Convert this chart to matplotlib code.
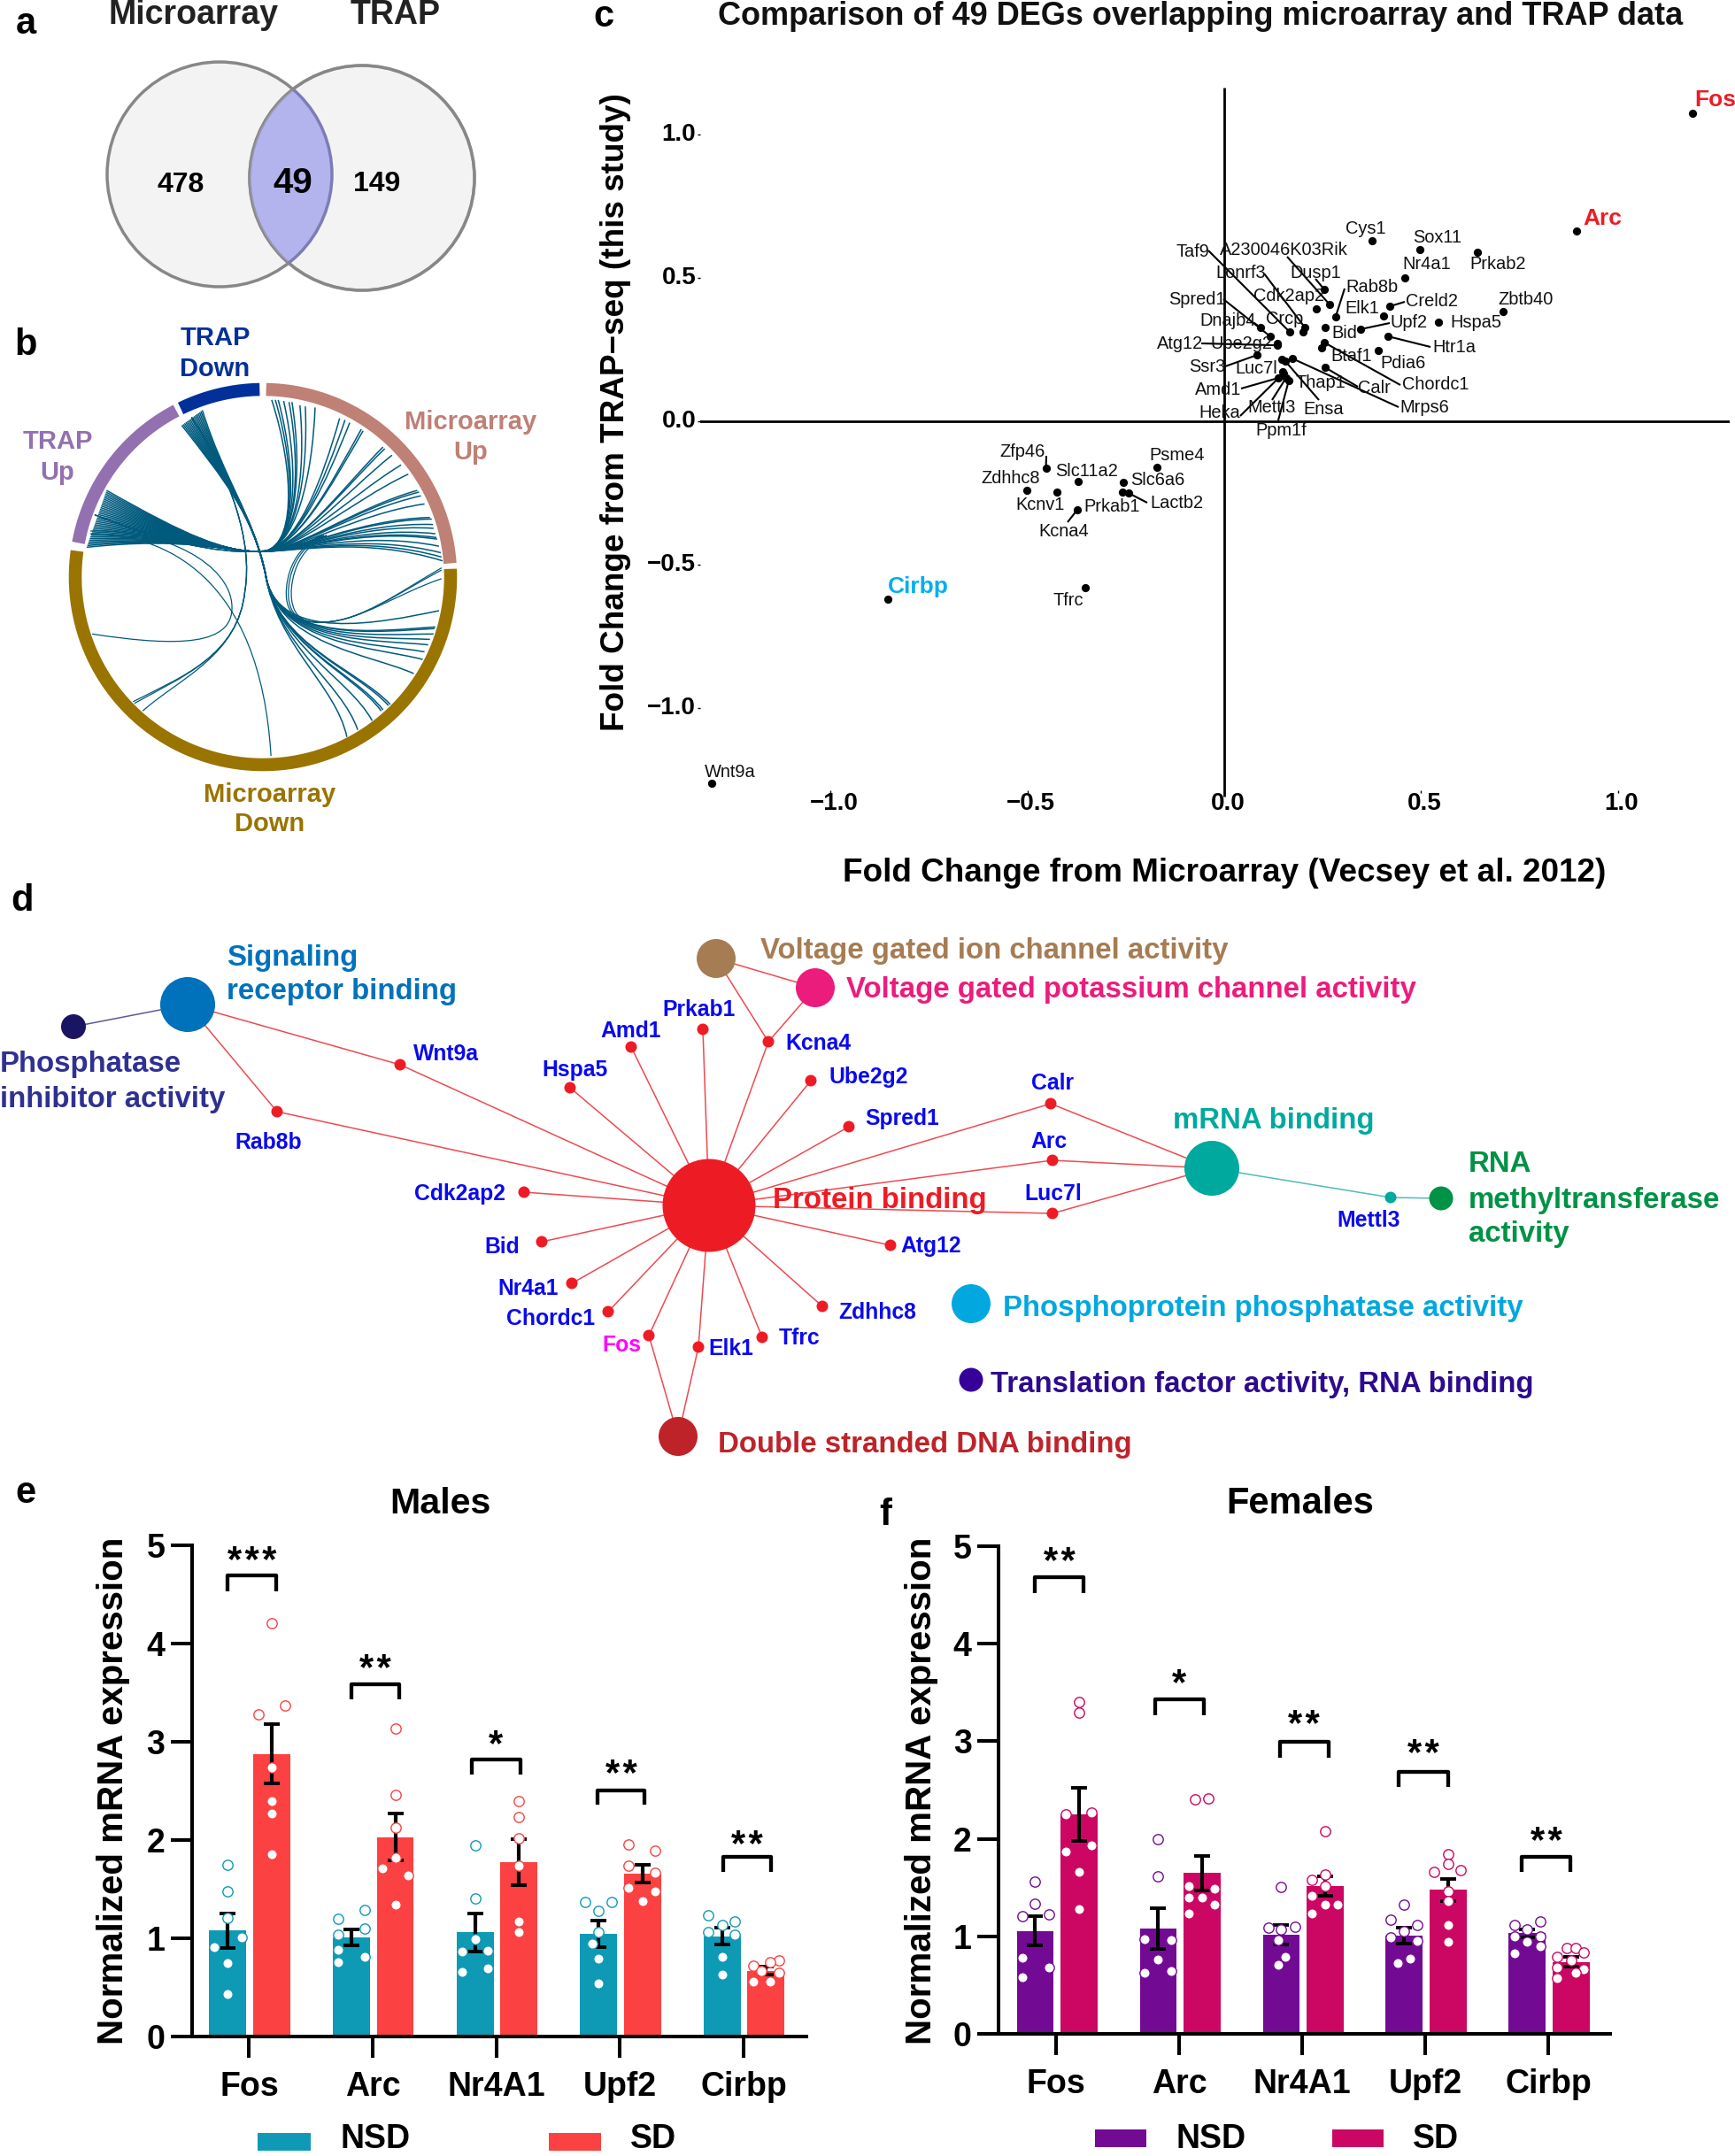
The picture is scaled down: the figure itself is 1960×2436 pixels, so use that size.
import numpy as np
import matplotlib
matplotlib.use('Agg')
import matplotlib.pyplot as plt
from matplotlib.patches import Circle, PathPatch, Rectangle
from matplotlib.path import Path
from matplotlib.transforms import ScaledTranslation

plt.rcParams['font.family'] = ['Liberation Sans', 'DejaVu Sans']
plt.rcParams['axes.unicode_minus'] = True

W, H = 1960, 2436

# panel a
venn_left_only = 478
venn_both = 49
venn_right_only = 149

# panel b, chord end points (crop units)
chord_up_ends = [(752, 738), (762, 738), (770, 738), (785, 740), (800, 742), (808, 742), (830, 748), (845, 750),
                 (872, 752), (940, 772), (955, 775), (968, 780), (1000, 792), (1005, 795), (1060, 825), (1065, 828),
                 (1085, 840), (1110, 858), (1130, 875), (1155, 905), (1160, 908), (1165, 915), (1175, 930),
                 (1190, 955), (1195, 958), (1198, 968), (1200, 975), (1205, 985), (1208, 992), (1210, 995),
                 (1215, 1008), (1220, 1020), (1222, 1028), (1225, 1035)]
chord_down_ends = [(1215, 1127), (1205, 1157), (1203, 1160), (1200, 1170), (1190, 1180), (1185, 1190), (1175, 1203),
                   (1170, 1217), (1145, 1243), (1080, 1300), (1075, 1302), (1060, 1310), (1055, 1312), (1030, 1330),
                   (990, 1347), (960, 1360)]
ring_names = ['Microarray Up', 'Microarray Down', 'TRAP Up', 'TRAP Down']
ring_start = [89, 2.5, 169.5, 116]
ring_end = [4.2, -188, 117.5, 91]
ring_colors = ['#bf8076', '#9a7400', '#9370b0', '#02309a']

# panel c
genes = ['Fos', 'Arc', 'Cys1', 'Sox11', 'Prkab2', 'Nr4a1', 'Dusp1', 'A230046K03Rik', 'Cdk2ap2', 'Rab8b', 'Creld2',
         'Elk1', 'Zbtb40', 'Hspa5', 'Bid', 'Upf2', 'Lonrf3', 'Crcp', 'Taf9', 'Dnajb4', 'Spred1', 'Htr1a', 'Ube2g2',
         'Atg12', 'Chordc1', 'Btaf1', 'Pdia6', 'Ssr3', 'Thap1', 'Mrps6', 'Calr', 'Luc7l', 'Amd1', 'Heka', 'Mettl3',
         'Ppm1f', 'Ensa', 'Zfp46', 'Psme4', 'Slc11a2', 'Slc6a6', 'Zdhhc8', 'Kcnv1', 'Prkab1', 'Lactb2', 'Kcna4',
         'Tfrc', 'Cirbp', 'Wnt9a']
fc_micro = [1.189, .895, .376, .497, .643, .458, .254, .268, .234, .283, .421, .405, .709, .544, .256, .346, .205,
            .200, .166, .092, .117, .417, .135, .135, .254, .247, .391, .083, .146, .173, .256, .148, .137, .150,
            .157, .164, .155, -.453, -.170, -.371, -.256, -.502, -.426, -.258, -.242, -.373, -.352, -.854, -1.303]
fc_trap = [1.075, .664, .630, .599, .590, .500, .460, .407, .392, .364, .401, .367, .383, .346, .327, .321, .327,
           .312, .312, .327, .296, .296, .272, .265, .275, .256, .247, .231, .216, .219, .188, .173, .151, .167,
           .151, .142, .210, -.163, -.159, -.210, -.214, -.240, -.248, -.248, -.251, -.308, -.580, -.621, -1.261]
c_ticks = [-1.0, -0.5, 0.0, 0.5, 1.0]
c_ticklabels = ['\u22121.0', '\u22120.5', '0.0', '0.5', '1.0']

# panel e, f
targets = ['Fos', 'Arc', 'Nr4A1', 'Upf2', 'Cirbp']
male_nsd = [1.08, 1.01, 1.06, 1.05, 1.02]
male_sd = [2.88, 2.03, 1.78, 1.66, 0.67]
male_nsd_err = [.175, .085, .19, .135, .085]
male_sd_err = [.305, .24, .235, .09, .04]
male_nsd_pts = [[1.746, 1.477, 1.212, 1.008, .912, .751, .434],
                [1.29, 1.20, 1.10, 1.04, .88, .81, .756],
                [1.95, 1.41, .995, .873, .864, .69, .656],
                [1.373, 1.373, 1.28, 1.06, .943, .795, .539],
                [1.238, 1.168, 1.138, 1.064, 1.038, .808, .634]]
male_sd_pts = [[4.21, 3.37, 3.28, 2.745, 2.40, 2.27, 1.86],
               [3.136, 2.463, 2.124, 1.82, 1.716, 1.642, 1.342],
               [2.40, 2.237, 2.024, 1.738, 1.169, 1.064],
               [1.955, 1.89, 1.738, 1.672, 1.516, 1.477, 1.377],
               [.778, .756, .725, .669, .647, .56, .56]]
male_nsd_off = [[0, 0, 0, 25, -25, 0, 0], [24, -24, 24, -24, -24, 24, -24], [0, 0, 0, 24, -24, 24, -24],
                [-24, 24, 0, 0, -12, 0, 0], [-25, 24, 0, -25, 24, 0, 0]]
male_sd_off = [[0, 24, -25, 0, 0, 0, 0], [0, 0, 0, 0, -24, 24, 0], [0, 0, 0, 0, 0, 0],
               [-25, 24, -25, 24, -25, 24, 0], [24, 8, -24, -8, 24, -24, 8]]
male_brackets = [(-40, 50, 4.535, 4.695), (-40, 48, 3.44, 3.59), (-46, 44, 2.67, 2.82), (-42, 46, 2.363, 2.506),
                 (-38, 50, 1.677, 1.83)]
male_stars = ['***', '**', '*', '**', '**']
male_star_y = [4.83, 3.73, 2.97, 2.66, 1.94]

female_nsd = [1.053, 1.08, 1.018, 1.01, 1.03]
female_sd = [2.25, 1.648, 1.512, 1.477, 0.739]
female_nsd_err = [.15, .208, .10, .08, .04]
female_sd_err = [.27, .18, .10, .115, .05]
female_nsd_pts = [[1.56, 1.337, 1.224, 1.206, .778, .677, .581],
                  [1.993, 1.617, .97, .962, .765, .647, .625],
                  [1.508, 1.093, 1.097, 1.075, .962, .787, .712],
                  [1.324, 1.171, 1.119, 1.049, .988, .953, .769, .726],
                  [1.154, 1.115, 1.075, 1.001, 1.001, .944, .896, .822]]
female_sd_pts = [[3.405, 3.29, 2.273, 2.25, 1.936, 1.866, 1.661, 1.276],
                 [2.408, 2.413, 1.512, 1.49, 1.399, 1.399, 1.324, 1.237],
                 [2.076, 1.63, 1.582, 1.512, 1.42, 1.324, 1.324, 1.237],
                 [1.84, 1.744, 1.665, 1.678, 1.464, 1.359, 1.119, .94],
                 [.878, .878, .835, .787, .756, .682, .66, .625, .573]]
female_nsd_off = [[0, 0, 24, -23, -23, 24, -23], [0, 0, -24, 23, 0, 23, -24], [0, -23, 24, 0, -6, 8, -6],
                  [0, -24, 23, 0, -24, 23, 11, -12], [23, -23, 0, -23, 23, 0, 23, -23]]
female_sd_off = [[0, 0, 23, -23, 23, -23, 0, 0], [-12, 11, -23, 23, 0, -23, 23, -23],
                 [0, 0, -23, 0, -23, 23, 0, -23], [0, 0, -24, 23, 0, 0, 0, 0],
                 [-8, 8, 23, -24, 0, -24, 23, 8, -24]]
female_brackets = [(-38, 48, 4.52, 4.68), (-43, 43, 3.27, 3.427), (-40, 46, 2.832, 2.994), (-47, 40, 2.535, 2.69),
                   (-47, 39, 1.66, 1.818)]
female_stars = ['**', '*', '**', '**', '**']
female_star_y = [4.83, 3.58, 3.16, 2.86, 1.96]

fig = plt.figure(figsize=(W / 100, H / 100), dpi=100)
fig.patch.set_facecolor('white')


def add_axes_px(left, top, right, bottom, **kwargs):
    return fig.add_axes([left / W, 1 - bottom / H, (right - left) / W, (bottom - top) / H], **kwargs)


# overlay in pixels of the picture, for free text and the schematic panels
pix = add_axes_px(0, 0, W, H, zorder=5)
pix.set_xlim(0, W)
pix.set_ylim(H, 0)
pix.axis('off')
pix.patch.set_alpha(0)


def label(x, y, s, size, color='black', weight='bold', ha='center', va='center', **kwargs):
    pix.text(x, y + 3, s, fontsize=size, color=color, fontweight=weight, ha=ha, va=va, **kwargs)


for letter, x, y in [('a', 29, 24), ('b', 29, 387), ('c', 682, 16), ('d', 25, 1015), ('e', 29, 1684), ('f', 1000, 1709)]:
    label(x, y, letter, 30)

# --- a: venn ---
edge = '#878787'
left_circle = Circle((248, 197), 127, fc='#f3f3f3', ec=edge, lw=2.5)
right_circle = Circle((409, 201), 127, fc='#f3f3f3', ec=edge, lw=2.5)
pix.add_patch(left_circle)
pix.add_patch(right_circle)
lens = Circle((248, 197), 127, fc='#b3b3ee', ec='#7d7db5', lw=2.5)
pix.add_patch(lens)
lens.set_clip_path(right_circle)
outline = Circle((409, 201), 127, fc='none', ec='#878787', lw=2.5, alpha=0.6)
pix.add_patch(outline)
label(218, 14, 'Microarray', 27, color='#222222')
label(447, 14, 'TRAP', 27, color='#222222')
label(204, 206, str(venn_left_only), 23)
label(426, 205, str(venn_right_only), 23)
label(331, 204, str(venn_both), 29)

# --- b: chord diagram ---
cx, cy, ring_r = 297, 652, 212


def crop_b(pt):
    return (pt[0] * 640 / 1568, pt[1] * 960 / 1568)


for a0, a1, col in zip(ring_start, ring_end, ring_colors):
    ang = np.radians(np.linspace(a0, a1, 200))
    pix.plot(cx + ring_r * np.cos(ang), cy - ring_r * np.sin(ang), color=col, lw=10.5, solid_capstyle='butt')


def chord(points, lw=0.9):
    # points: start then triples of control points, in crop units
    verts = [crop_b(p) for p in points]
    codes = [Path.MOVETO] + [Path.CURVE4] * (len(verts) - 1)
    pix.add_patch(PathPatch(Path(verts, codes), fc='none', ec='#005a7d', lw=lw))


up_x = np.linspace(295, 240, len(chord_up_ends))
up_y = np.linspace(905, 1010, len(chord_up_ends))
for x0, y0, end in zip(up_x, up_y, chord_up_ends):
    c2 = (860 * 0.6 + end[0] * 0.4, 960 * 0.6 + end[1] * 0.4)
    chord([(x0, y0), (520, 990), (620, 1018), (720, 1018),
           (820, 1018), c2, end], lw=1.1)
down_x = np.linspace(503, 560, len(chord_down_ends))
down_y = np.linspace(785, 757, len(chord_down_ends))
for x0, y0, end in zip(down_x, down_y, chord_down_ends):
    c2 = (900 * 0.5 + end[0] * 0.5, 1170 * 0.5 + end[1] * 0.5)
    chord([(x0, y0), (620, 885), (700, 950), (735, 1060),
           (765, 1190), c2, end], lw=1.1)
# loops that do not follow the fans
for shift, end_y in [(0, 1048), (6, 1052), (14, 1068)]:
    chord([(262, 950), (450, 1000), (600, 1020), (700, 1018),
           (780, 1016), (860, 1000), (890 + shift, 988),
           (790 + shift, 1020), (790 + shift, 1090), (793 + shift, 1105),
           (800 + shift, 1145), (850, 1150), (900, 1148),
           (1000, 1145), (1100, 1095), (1222, end_y)])
chord([(250, 980), (450, 975), (640, 1040), (642, 1120), (644, 1190), (500, 1195), (255, 1170)])
chord([(250, 985), (450, 985), (720, 1060), (750, 1395)])
for end in [(368, 1295), (372, 1298), (395, 1312)]:
    chord([(530, 770), (640, 880), (700, 1000), (678, 1090), (660, 1210), (500, 1250), end])

label(243, 379, 'TRAP', 21, color='#02309a')
label(243, 414, 'Down', 21, color='#02309a')
label(532, 474, 'Microarray', 21, color='#bf8076')
label(532, 508, 'Up', 21, color='#bf8076')
label(65, 496, 'TRAP', 21, color='#9370b0')
label(65, 531, 'Up', 21, color='#9370b0')
label(305, 895, 'Microarray', 21, color='#9a7400')
label(305, 928, 'Down', 21, color='#9a7400')

# --- c: scatter of fold changes ---
ax_c = add_axes_px(791, 99, 1954, 893)
ax_c.set_xlim(-1.3315, 1.2843)
ax_c.set_ylim(-1.287, 1.1636)
for side in ax_c.spines:
    ax_c.spines[side].set_visible(False)
ax_c.patch.set_alpha(0)
ax_c.plot([0, 0], [-1.31, 1.1636], color='black', lw=2, clip_on=False, solid_capstyle='butt')
ax_c.axhline(0, color='black', lw=2)
ax_c.scatter(fc_micro, fc_trap, s=44, c='black', linewidths=0, zorder=3, clip_on=False)
ax_c.set_xticks(c_ticks)
ax_c.set_xticklabels(c_ticklabels, fontsize=20, fontweight='bold')
ax_c.set_yticks(c_ticks)
ax_c.set_yticklabels(c_ticklabels, fontsize=20, fontweight='bold')
ax_c.tick_params(axis='both', length=2, width=1, pad=1.5)
# the tick labels sit a little off their ticks in the original
for t in ax_c.get_xticklabels():
    t.set_transform(t.get_transform() + ScaledTranslation(4 / 100, 3 / 100, fig.dpi_scale_trans))
for t in ax_c.get_yticklabels():
    t.set_transform(t.get_transform() + ScaledTranslation(0, 3 / 100, fig.dpi_scale_trans))

# gene label centres in picture pixels
c_label_xy = {'Cys1': (1543, 257), 'Sox11': (1624, 268), 'Nr4a1': (1612, 298), 'Prkab2': (1692, 298),
              'Taf9': (1347, 283), 'A230046K03Rik': (1450, 281), 'Dusp1': (1486, 307), 'Lonrf3': (1402, 308),
              'Rab8b': (1550, 324), 'Spred1': (1352, 337), 'Cdk2ap2': (1456, 334), 'Creld2': (1617, 339),
              'Zbtb40': (1724, 338), 'Elk1': (1539, 348), 'Dnajb4': (1387, 362), 'Crcp': (1451, 360),
              'Upf2': (1592, 364), 'Hspa5': (1667, 364), 'Bid': (1519, 376), 'Atg12': (1333, 388),
              'Ube2g2': (1402, 388), 'Htr1a': (1643, 392), 'Btaf1': (1527, 402), 'Pdia6': (1585, 410),
              'Ssr3': (1364, 414), 'Luc7l': (1419, 415), 'Thap1': (1492, 431), 'Calr': (1552, 437),
              'Chordc1': (1622, 434), 'Amd1': (1376, 440), 'Heka': (1378, 466), 'Mettl3': (1437, 459),
              'Ensa': (1495, 461), 'Mrps6': (1609, 460), 'Ppm1f': (1447, 485), 'Zfp46': (1155, 510),
              'Psme4': (1330, 513), 'Slc11a2': (1228, 531), 'Slc6a6': (1308, 542), 'Zdhhc8': (1142, 540),
              'Kcnv1': (1175, 570), 'Prkab1': (1256, 572), 'Lactb2': (1329, 568), 'Kcna4': (1202, 599),
              'Tfrc': (1207, 678), 'Wnt9a': (825, 871)}
for g, (x, y) in c_label_xy.items():
    label(x, y - 2, g, 14.4, weight='normal', color='#111111')
label(1938, 110, 'Fos', 19, color='#ed1c24')
label(1810, 244, 'Arc', 19, color='#ed1c24')
label(1037, 660, 'Cirbp', 19, color='#00aeef')

# where each leader line starts, near its label
c_leaders = {'Taf9': (1365, 283), 'A230046K03Rik': (1454, 290), 'Dusp1': (1486, 315), 'Lonrf3': (1428, 309),
             'Rab8b': (1519, 326), 'Creld2': (1587, 341), 'Upf2': (1570, 365), 'Htr1a': (1616, 392),
             'Chordc1': (1582, 435), 'Mrps6': (1580, 460), 'Calr': (1534, 437), 'Ensa': (1490, 452),
             'Ppm1f': (1444, 475), 'Mettl3': (1437, 452), 'Heka': (1401, 470), 'Amd1': (1402, 439),
             'Ssr3': (1384, 414), 'Atg12': (1357, 388), 'Spred1': (1382, 338), 'Dnajb4': (1417, 365),
             'Zfp46': (1182, 515), 'Lactb2': (1296, 568), 'Kcna4': (1206, 590)}
to_pix = pix.transData.inverted()
for g, (x, y) in c_leaders.items():
    i = genes.index(g)
    end = to_pix.transform(ax_c.transData.transform((fc_micro[i], fc_trap[i])))
    pix.plot([x, end[0]], [y, end[1]], color='black', lw=1.5, solid_capstyle='butt')

label(1356, 15.5, 'Comparison of 49 DEGs overlapping microarray and TRAP data', 26, color='#111111')
label(1383, 983, 'Fold Change from Microarray (Vecsey et al. 2012)', 26.6)
label(695, 463, 'Fold Change from TRAP\u2212seq (this study)', 26.6, rotation=90)

# --- d: network ---
nodes = {'Phosphatase': (83, 1160, 14, '#1a1464'), 'Signaling': (212, 1135, 31, '#0072bc'),
         'Wnt9a': (452, 1203, 6.5, '#ed1c24'), 'Rab8b': (313, 1256, 6.5, '#ed1c24'),
         'Hspa5': (644, 1229, 6.5, '#ed1c24'), 'Amd1': (713, 1183, 6.5, '#ed1c24'),
         'Prkab1': (794, 1163, 6.5, '#ed1c24'), 'Kcna4': (868, 1177, 6.5, '#ed1c24'),
         'VGIC': (809, 1083, 22, '#a67c52'), 'VGK': (921, 1116, 22, '#ec1c7c'),
         'Ube2g2': (916, 1221, 6.5, '#ed1c24'), 'Spred1': (959, 1273, 6.5, '#ed1c24'),
         'Protein': (801, 1362, 52.5, '#ed1c24'), 'Cdk2ap2': (592, 1347, 6.5, '#ed1c24'),
         'Bid': (612, 1403, 6.5, '#ed1c24'), 'Nr4a1': (646, 1450, 6.5, '#ed1c24'),
         'Chordc1': (687, 1482, 6.5, '#ed1c24'), 'Fos': (733, 1509, 6.5, '#ed1c24'),
         'Elk1': (789, 1522, 6.5, '#ed1c24'), 'Tfrc': (861, 1511, 6.5, '#ed1c24'),
         'Zdhhc8': (929, 1476, 6.5, '#ed1c24'), 'DSDNA': (766, 1623, 22, '#be2329'),
         'Calr': (1187, 1247, 6.5, '#ed1c24'), 'Arc': (1189, 1311, 6.5, '#ed1c24'),
         'Luc7l': (1189, 1371, 6.5, '#ed1c24'), 'Atg12': (1006, 1407, 6.5, '#ed1c24'),
         'mRNA': (1369, 1320, 31, '#00a99d'), 'Mettl3': (1571, 1353, 6.5, '#00a99d'),
         'RNAmt': (1628, 1354, 13.5, '#009245'), 'Phospho': (1097, 1473, 22, '#00a8df'),
         'Transl': (1097, 1559, 13.5, '#360099')}
red_edges = [('Protein', g) for g in ['Wnt9a', 'Rab8b', 'Hspa5', 'Amd1', 'Prkab1', 'Kcna4', 'Ube2g2', 'Spred1', 'Calr',
                                      'Arc', 'Luc7l', 'Cdk2ap2', 'Bid', 'Nr4a1', 'Chordc1', 'Fos', 'Elk1', 'Tfrc',
                                      'Zdhhc8', 'Atg12']]
red_edges += [('Signaling', 'Wnt9a'), ('Signaling', 'Rab8b'), ('VGIC', 'VGK'), ('VGIC', 'Kcna4'), ('VGK', 'Kcna4'),
              ('DSDNA', 'Fos'), ('DSDNA', 'Elk1'), ('mRNA', 'Calr'), ('mRNA', 'Arc'), ('mRNA', 'Luc7l')]
for a, b in red_edges:
    pix.plot([nodes[a][0], nodes[b][0]], [nodes[a][1], nodes[b][1]], color='#ee4a50', lw=1.1, zorder=1)
pix.plot([nodes['Phosphatase'][0], nodes['Signaling'][0]], [nodes['Phosphatase'][1], nodes['Signaling'][1]],
         color='#5c5a96', lw=1.1, zorder=1)
for a, b in [('mRNA', 'Mettl3'), ('Mettl3', 'RNAmt')]:
    pix.plot([nodes[a][0], nodes[b][0]], [nodes[a][1], nodes[b][1]], color='#4fbcb2', lw=1.1, zorder=1)
for name, (x, y, r, col) in nodes.items():
    pix.add_patch(Circle((x, y), r, fc=col, ec='none', zorder=2))

d_gene_labels = [('Wnt9a', 504, 1188), ('Rab8b', 303, 1288), ('Hspa5', 649, 1206), ('Amd1', 713, 1162),
                 ('Prkab1', 790, 1138), ('Kcna4', 924, 1176), ('Ube2g2', 981, 1214), ('Spred1', 1019, 1261),
                 ('Cdk2ap2', 519, 1346), ('Bid', 567, 1406), ('Nr4a1', 597, 1453), ('Chordc1', 622, 1487),
                 ('Elk1', 826, 1521), ('Tfrc', 903, 1509), ('Zdhhc8', 991, 1480), ('Calr', 1189, 1221),
                 ('Arc', 1185, 1287), ('Luc7l', 1190, 1346), ('Atg12', 1052, 1405), ('Mettl3', 1546, 1376)]
for g, x, y in d_gene_labels:
    label(x, y, g, 17.8, color='#0a0aee')
label(702, 1517, 'Fos', 17.8, color='#ff00ff')

d_terms = [('Signaling', 256, 1079, '#0072bc'), ('receptor binding', 256, 1118, '#0072bc'),
           ('Phosphatase', 0, 1199, '#2e3192'), ('inhibitor activity', 0, 1239, '#2e3192'),
           ('Voltage gated ion channel activity', 859, 1072, '#a67c52'),
           ('Voltage gated potassium channel activity', 956, 1115, '#ec1c7c'),
           ('Protein binding', 873, 1354, '#ed1c24'), ('mRNA binding', 1325, 1263, '#00a99d'),
           ('RNA', 1659, 1312, '#009245'), ('methyltransferase', 1659, 1353, '#009245'),
           ('activity', 1659, 1392, '#009245'),
           ('Phosphoprotein phosphatase activity', 1133, 1475, '#00a8df'),
           ('Translation factor activity, RNA binding', 1119, 1561, '#2e0a8e'),
           ('Double stranded DNA binding', 811, 1629, '#be2329')]
for s, x, y, col in d_terms:
    label(x, y, s, 23.8, color=col, ha='left')


# --- e, f: bars ---
def draw_bars(ax, nsd, sd, nsd_err, sd_err, nsd_pts, sd_pts, nsd_off, sd_off, brackets, stars, star_y,
              colors, off, unit):
    x = np.arange(len(targets))
    nsd_x = x - off[0]
    sd_x = x + off[1]
    ax.bar(nsd_x, nsd, width=0.3, color=colors[0], zorder=1)
    ax.bar(sd_x, sd, width=0.3, color=colors[1], zorder=1)
    ax.errorbar(nsd_x, nsd, yerr=nsd_err, fmt='none', ecolor='black', elinewidth=3, capsize=6.5, capthick=2.8, zorder=2)
    ax.errorbar(sd_x, sd, yerr=sd_err, fmt='none', ecolor='black', elinewidth=3, capsize=6.5, capthick=2.8, zorder=2)
    for i in x:
        ax.plot(nsd_x[i] + np.array(nsd_off[i]) / unit, nsd_pts[i], 'o', mfc='white', mec=colors[0], ms=8.2, mew=1,
                ls='none', zorder=3, clip_on=False)
        ax.plot(sd_x[i] + np.array(sd_off[i]) / unit, sd_pts[i], 'o', mfc='white', mec=colors[1], ms=8.2, mew=1,
                ls='none', zorder=3, clip_on=False)
        l, r, b, t = brackets[i]
        ax.plot([i + l / unit, i + l / unit, i + r / unit, i + r / unit], [b, t, t, b], color='black', lw=3.1,
                clip_on=False, solid_joinstyle='round', solid_capstyle='butt')
        ax.text(i + (l + r) / 2 / unit, star_y[i], '\u200a'.join(stars[i]), fontsize=30, fontweight='bold', ha='center',
                va='center', color='black')
    ax.set_ylim(0, 5)
    ax.set_yticks([0, 1, 2, 3, 4, 5])
    ax.set_xticks(x)
    ax.set_xticklabels(targets, fontsize=27, fontweight='bold')
    ax.set_yticklabels(['0', '1', '2', '3', '4', '5'], fontsize=27, fontweight='bold')
    ax.tick_params(axis='y', length=17, width=2.9, pad=5)
    ax.tick_params(axis='x', length=17, width=2.9, pad=11)
    for side in ['top', 'right']:
        ax.spines[side].set_visible(False)
    for side in ['left', 'bottom']:
        ax.spines[side].set_linewidth(2.9)


ax_e = add_axes_px(217, 1746.5, 911, 2301)
ax_e.set_xlim(-0.462, 4.509)
draw_bars(ax_e, male_nsd, male_sd, male_nsd_err, male_sd_err, male_nsd_pts, male_sd_pts, male_nsd_off, male_sd_off,
          male_brackets, male_stars, male_star_y, ('#0e9ab4', '#fb4141'), (0.173, 0.182), 228)

ax_f = add_axes_px(1128.4, 1747, 1819, 2298)
ax_f.set_xlim(-0.467, 4.502)
draw_bars(ax_f, female_nsd, female_sd, female_nsd_err, female_sd_err, female_nsd_pts, female_sd_pts, female_nsd_off,
          female_sd_off, female_brackets, female_stars, female_star_y, ('#730a94', '#cb0763'), (0.172, 0.183), 218)

label(128, 2020, 'Normalized mRNA expression', 29, rotation=90)
label(1041, 2020, 'Normalized mRNA expression', 29, rotation=90)
label(497, 1696, 'Males', 29.6)
label(1469, 1696, 'Females', 30)

# legends
for x0, x1, y0, y1, col in [(291, 351, 2410, 2430, '#0e9ab4'), (620, 679, 2410, 2430, '#fb4141'),
                            (1237, 1295, 2406, 2426, '#730a94'), (1505, 1563, 2406, 2426, '#cb0763')]:
    pix.add_patch(Rectangle((x0, y0), x1 - x0, y1 - y0, fc=col, ec='none'))
for x, y, s in [(424, 2414, 'NSD'), (738, 2414, 'SD'), (1368, 2414, 'NSD'), (1622, 2414, 'SD')]:
    label(x, y, s, 27)

fig.savefig('out.png', dpi=100)
